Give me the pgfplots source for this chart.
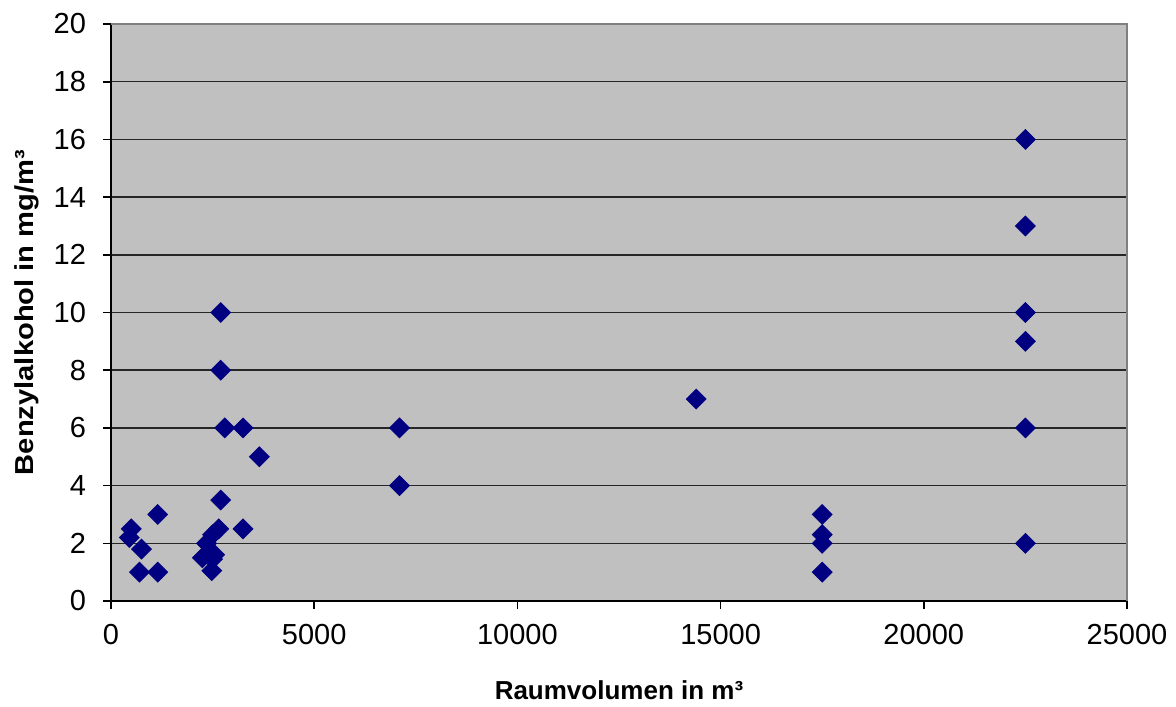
\documentclass[border=0pt]{standalone}
\usepackage{fontspec}
\setmainfont{Liberation Sans}
\usepackage{graphicx}
\usepackage{pgfplots}
\pgfplotsset{compat=1.18}

\definecolor{plotbg}{HTML}{C0C0C0}
\definecolor{marknavy}{HTML}{000080}

\begin{document}
\begin{tikzpicture}
\begin{axis}[
  scale only axis,
  width=508pt, height=288.5pt,
  xmin=0, xmax=25000, ymin=0, ymax=20,
  xtick={0,5000,...,25000},
  ytick={0,2,...,20},
  /pgf/number format/assume math mode=true,
  /pgf/number format/1000 sep={},
  scaled x ticks=false,
  tick label style={font=\fontsize{14.5}{17}\selectfont, black},
  xticklabel style={yshift=-4pt},
  yticklabel style={xshift=-5pt},
  axis background/.style={fill=plotbg},
  axis x line*=bottom, axis y line*=left,
  axis line style={black, line width=1pt},
  tick align=outside,
  major tick length=4pt,
  tick style={black, line width=0.8pt},
  ymajorgrids,
  major grid style={black!85, line width=0.75pt},
  xlabel={Raumvolumen in m³},
  ylabel={\scalebox{1.12}[1]{Benzylalkohol in mg/m³}},
  label style={font=\fontsize{13}{15}\selectfont\bfseries},
  xlabel style={at={(axis description cs:0.5,-0.154)}, anchor=center},
  ylabel style={at={(axis description cs:-0.083,0.5)}, anchor=center, rotate=0},
  clip=false,
]
\draw[black!50, line width=0.8pt] (rel axis cs:0,1) -- (rel axis cs:1,1) -- (rel axis cs:1,0);
\addplot[only marks, mark=square*, mark size=3.5pt,
  mark options={rotate=45, fill=marknavy, draw=marknavy}]
  coordinates {
    (500,2.5) (450,2.2) (750,1.8) (700,1.0) (1150,3.0) (1150,1.0)
    (2250,1.5) (2350,2.0) (2500,2.3) (2650,2.5) (2500,1.45) (2550,1.6)
    (2480,1.05) (2700,3.5) (2700,8) (2700,10) (2800,6) (3250,6)
    (3250,2.5) (3650,5) (7100,6) (7100,4) (14400,7)
    (17500,3) (17500,2.3) (17500,2) (17500,1)
    (22500,16) (22500,13) (22500,10) (22500,9) (22500,6) (22500,2)
  };
\end{axis}
\path[use as bounding box] (-55.5pt,-52pt) rectangle (532.5pt,300.5pt);
\end{tikzpicture}
\end{document}
